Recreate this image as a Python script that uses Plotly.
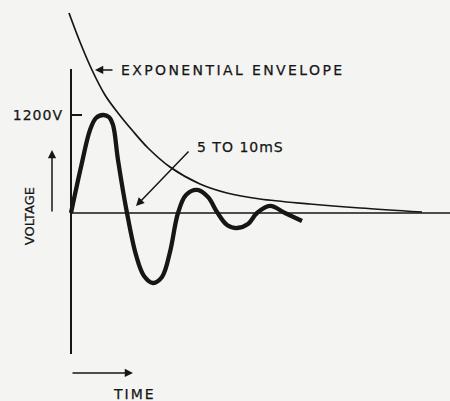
import json
import plotly.graph_objects as go

# Damped oscillation (time in arbitrary units, amplitude in volts)
wave_t = [0.0, 1.0, 1.9, 2.5, 3.2, 3.8, 4.2, 4.7, 5.6, 6.5, 7.3, 8.2, 9.1,
          9.9, 10.7, 11.5, 12.6, 13.7, 14.6, 15.6, 16.6, 17.7, 18.6, 19.9,
          21.4, 23.1]
wave_v = [0, 563, 1016, 1163, 1200, 1175, 1078, 649, 0, -514, -771, -857,
          -784, -478, 0, 220, 282, 196, 12, -147, -184, -135, 0, 86,
          0, -98]

# Hand-sketched decay envelope
env_t = [-0.2, 0.9, 2.1, 3.4, 4.7, 6.1, 7.7, 9.9, 12.9, 15.6, 18.9, 23.9,
         28.9, 35.1]
env_v = [2449, 2094, 1751, 1445, 1225, 1016, 796, 563, 355, 245, 171, 110,
         61, 12]

peak_tick = [1200]
peak_label = ["1200V"]

ink = "#161616"
paper = "#f4f4f2"
font = "DejaVu Sans"

fig = go.Figure()
fig.add_trace(go.Scatter(x=env_t, y=env_v, mode="lines",
                         line=dict(color=ink, width=1.7, shape="spline"),
                         hoverinfo="skip"))
fig.add_trace(go.Scatter(x=wave_t, y=wave_v, mode="lines",
                         line=dict(color=ink, width=4.3, shape="spline",
                                   smoothing=1.0),
                         hoverinfo="skip"))

# Axes drawn as plain strokes
fig.add_shape(type="line", x0=0, x1=0, y0=1763, y1=-1727,
              line=dict(color=ink, width=2), layer="below")
fig.add_shape(type="line", x0=0, x1=40, y0=0, y1=0,
              line=dict(color=ink, width=1.6), layer="below")

arrow = dict(showarrow=True, arrowhead=2, arrowsize=1.1, arrowwidth=1.5,
             arrowcolor=ink, axref="x", ayref="y", xref="x", yref="y",
             text="")
annotations = [
    # text labels (letter spacing applied after rendering, same order)
    dict(x=4.8, y=1751, text="EXPONENTIAL ENVELOPE", xanchor="left",
         align="left", showarrow=False, font=dict(size=14)),
    dict(x=12.4, y=808, text="5 TO 10mS", xanchor="left", align="left",
         showarrow=False, font=dict(size=14)),
    dict(x=4.0, y=-2220, text="TIME", xanchor="left", align="left",
         showarrow=False, font=dict(size=14)),
    dict(x=-4.2, y=-40, text="VOLTAGE", textangle=-90, showarrow=False,
         font=dict(size=13)),
    # arrows
    dict(arrow, x=2.4, y=1751, ax=4.3, ay=1751),
    dict(arrow, x=6.5, y=86, ax=11.9, ay=771),
    dict(arrow, x=-1.9, y=771, ax=-1.9, ay=0),
    dict(arrow, x=6.2, y=-1959, ax=0, ay=-1959),
]
for a in annotations:
    a.setdefault("xref", "x")
    a.setdefault("yref", "y")
    a.setdefault("font", {})
    a["font"] = dict(family=font, color=ink, **a["font"])

fig.update_layout(
    width=450, height=401,
    margin=dict(l=0, r=0, t=0, b=0),
    paper_bgcolor=paper, plot_bgcolor=paper,
    showlegend=False,
    annotations=annotations,
    xaxis=dict(range=[-7.1, 37.9], visible=False),
    yaxis=dict(range=[-2302, 2608], anchor="free", position=71 / 450,
               showgrid=False, zeroline=False, showline=False,
               tickvals=peak_tick, ticktext=peak_label,
               ticks="inside", ticklen=10, tickwidth=2, tickcolor=ink,
               ticklabelstandoff=8,
               tickfont=dict(family=font, size=14, color=ink)),
)

# Stencil-style lettering: wider tracking and a slightly heavier stroke
spacing = [2.4, 1.0, 2.0, 0.0]
post = """
var sp = %s;
function heavier(t) { t.style.stroke = '%s'; t.style.strokeWidth = '0.25px'; }
document.querySelectorAll('g.annotation').forEach(function(g){
  var i = parseInt(g.getAttribute('data-index'));
  if (i < sp.length) {
    g.querySelectorAll('text').forEach(function(t){
      t.style.letterSpacing = sp[i] + 'px';
      heavier(t);
    });
  }
});
document.querySelectorAll('.ytick text').forEach(function(t){
  t.style.letterSpacing = '1px';
  heavier(t);
});
""" % (json.dumps(spacing), ink)

fig.write_html("out.html", post_script=post, config={"displayModeBar": False})
